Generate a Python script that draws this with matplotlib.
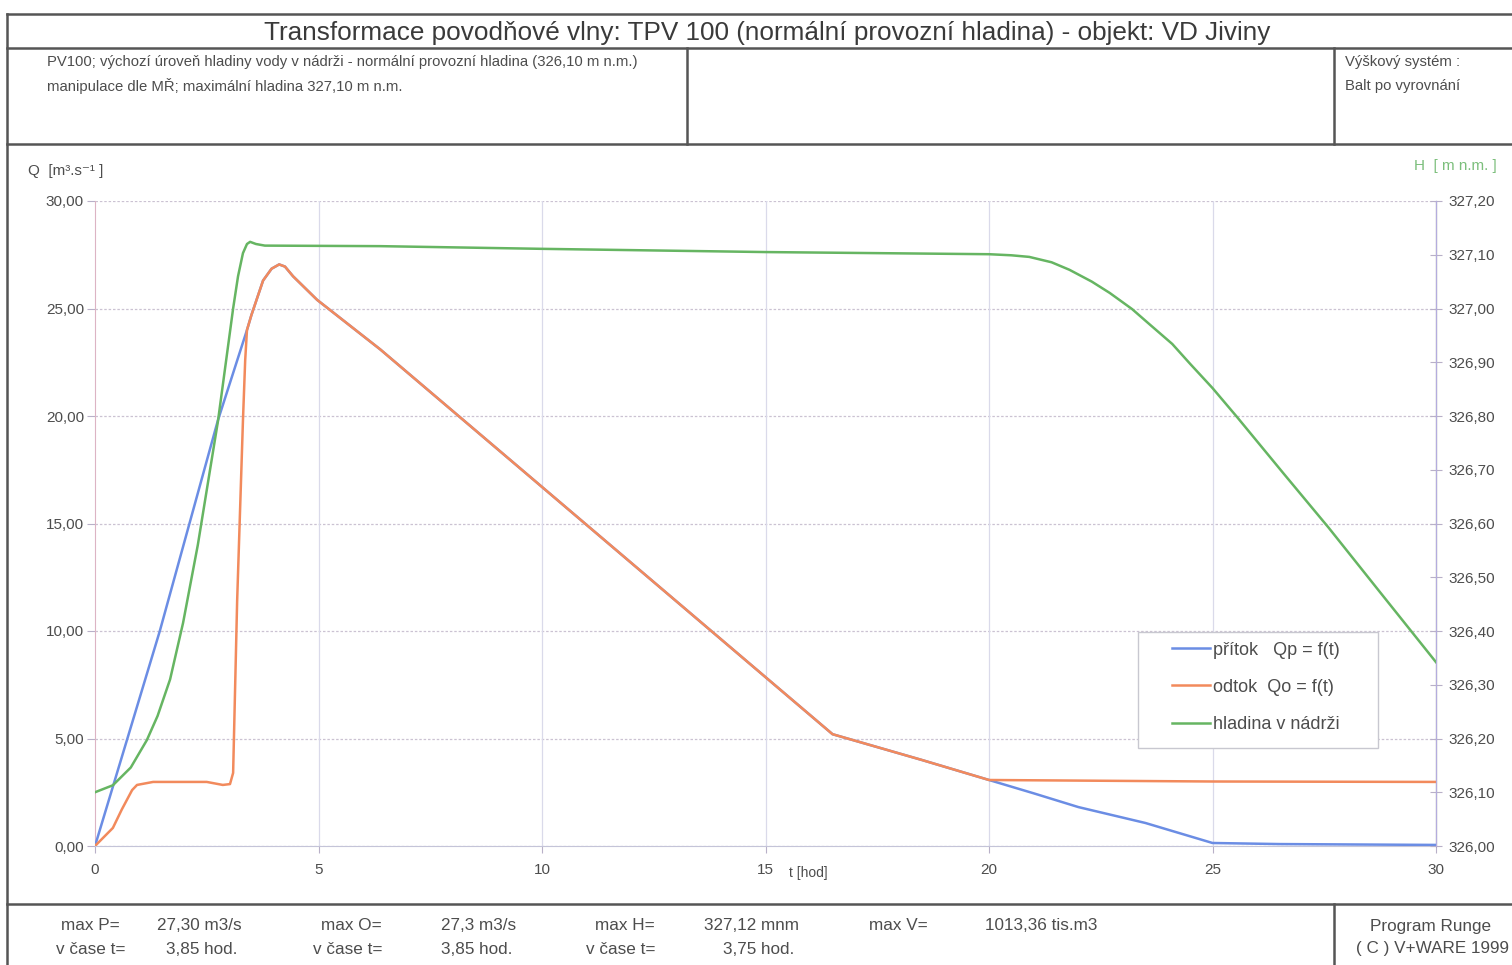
import matplotlib
matplotlib.use("Agg")
import matplotlib.pyplot as plt
from matplotlib.lines import Line2D
from matplotlib.patches import Rectangle

plt.rcParams['font.family'] = ['Liberation Sans', 'DejaVu Sans']

# --- data ---
# pritok (inflow) Qp [m3/s]
t_p = [0, 1.45, 2.75, 3.4, 3.5, 3.76, 3.95, 4.12, 4.25, 4.43, 4.97, 6.38, 10, 16.5, 18.5, 20.0, 21.0, 22.0, 23.5, 25.0, 26.5, 30]
q_p = [0, 10.0, 19.8, 24.0, 24.7, 26.3, 26.85, 27.05, 26.95, 26.5, 25.4, 23.1, 16.7, 5.2, 4.0, 3.07, 2.45, 1.81, 1.07, 0.14, 0.09, 0.05]

# odtok (outflow) Qo [m3/s]
t_o = [0, 0.4, 0.6, 0.83, 0.94, 1.3, 2.5, 2.86, 3.02, 3.09, 3.18, 3.31, 3.36, 3.4, 3.5, 3.76, 3.95, 4.12, 4.25, 4.43,
       4.97, 6.38, 10, 16.5, 18.5, 20.0, 25.0, 30]
q_o = [0, 0.84, 1.7, 2.6, 2.84, 2.98, 2.98, 2.84, 2.88, 3.4, 11.4, 19.8, 22.6, 24.0, 24.7, 26.3, 26.85, 27.05, 26.95, 26.5,
       25.4, 23.1, 16.7, 5.2, 4.0, 3.07, 3.0, 2.98]

# hladina v nadrzi H [m n.m.]
t_h = [0, 0.4, 0.8, 1.16, 1.4, 1.68, 1.97, 2.3, 2.75, 3.09, 3.2, 3.31, 3.4, 3.47, 3.6, 3.8, 6.38, 10, 15, 20,
       20.5, 20.9, 21.4, 21.8, 22.3, 22.7, 23.2, 23.6, 24.1, 24.5, 25.0, 25.55, 26.6, 27.6, 28.75, 30]
h = [326.100, 326.113, 326.146, 326.197, 326.242, 326.31, 326.415, 326.56, 326.79, 327.0, 327.06, 327.103, 327.12,
     327.124, 327.12, 327.117, 327.116, 327.111, 327.105, 327.101,
     327.099, 327.096, 327.086, 327.072, 327.05, 327.029, 326.999, 326.97, 326.934, 326.897, 326.852, 326.798,
     326.692, 326.592, 326.472, 326.342]

x_ticks = [0, 5, 10, 15, 20, 25, 30]
q_ticks = [0, 5, 10, 15, 20, 25, 30]
h_ticks = [326.0, 326.1, 326.2, 326.3, 326.4, 326.5, 326.6, 326.7, 326.8, 326.9, 327.0, 327.1, 327.2]

title = "Transformace povodňové vlny: TPV 100 (normální provozní hladina) - objekt: VD Jiviny"
head_left = ["PV100; výchozí úroveň hladiny vody v nádrži - normální provozní hladina (326,10 m n.m.)",
             "manipulace dle MŘ; maximální hladina 327,10 m n.m."]
head_right = ["Výškový systém :", "Balt po vyrovnání"]

stats = [("max P=", "27,30 m3/s", "v čase t=", "3,85 hod."),
         ("max O=", "27,3 m3/s", "v čase t=", "3,85 hod."),
         ("max H=", "327,12 mnm", "v čase t=", "3,75 hod."),
         ("max V=", "1013,36 tis.m3", "", "")]

BLUE = '#6b8de4'
ORANGE = '#f28a5c'
GREEN = '#66b562'
TXT = '#4d4d4d'
W, H = 1512, 965


def fx(px):
    return px / W


def fy(py):
    return 1 - py / H


fig = plt.figure(figsize=(15.12, 9.65), dpi=100)

# frame lines of the form
def frame(x0, y0, x1, y1, lw=1.8):
    fig.add_artist(Line2D([fx(x0), fx(x1)], [fy(y0), fy(y1)], transform=fig.transFigure,
                          color='#555555', lw=lw))

frame(7, 14, 1512, 14)
frame(7, 48, 1512, 48)
frame(7, 144, 1512, 144)
frame(7, 904, 1512, 904)
frame(7, 14, 7, 965)
frame(687, 48, 687, 144)
frame(1334, 48, 1334, 144)
frame(1334, 904, 1334, 965)

fig.text(fx(767), fy(33), title, ha='center', va='center', fontsize=18.8, color='#3a3a3a')
fig.text(fx(47), fy(62), head_left[0], ha='left', va='center', fontsize=10.7, color=TXT)
fig.text(fx(47), fy(86), head_left[1], ha='left', va='center', fontsize=10.7, color=TXT)
fig.text(fx(1345), fy(62), head_right[0], ha='left', va='center', fontsize=10.7, color=TXT)
fig.text(fx(1345), fy(86), head_right[1], ha='left', va='center', fontsize=10.7, color=TXT)

# bottom statistics
cols = [(120, 157, 125, 166), (382, 441, 382, 441), (655, 704, 655, 723), (928, 985, 928, 985)]
for (a, b, c, d), (xa, xb, xc, xd) in zip(stats, cols):
    fig.text(fx(xa), fy(926), a, ha='right', va='center', fontsize=12.3, color=TXT)
    fig.text(fx(xb), fy(926), b, ha='left', va='center', fontsize=12.3, color=TXT)
    if c:
        fig.text(fx(xc), fy(949), c, ha='right', va='center', fontsize=12.3, color=TXT)
        fig.text(fx(xd), fy(949), d, ha='left', va='center', fontsize=12.3, color=TXT)
fig.text(fx(1431), fy(926), "Program Runge", ha='center', va='center', fontsize=12.3, color=TXT)
fig.text(fx(1433), fy(949), "( C ) V+WARE 1999", ha='center', va='center', fontsize=12.3, color=TXT)

# chart
ax = fig.add_axes([fx(95), fy(846), fx(1436) - fx(95), fy(201) - fy(846)])
ax2 = ax.twinx()

ax.plot(t_p, q_p, color=BLUE, lw=1.8, label='přítok   Qp = f(t)', zorder=3)
ax.plot(t_o, q_o, color=ORANGE, lw=1.8, label='odtok  Qo = f(t)', zorder=4)
ax2.plot(t_h, h, color=GREEN, lw=1.8, label='hladina v nádrži')

ax.set_xlim(0, 30)
ax.set_ylim(0, 30)
ax2.set_ylim(326.0, 327.2)
ax.set_xticks(x_ticks)
ax.set_xticklabels([str(v) for v in x_ticks])
ax.set_yticks(q_ticks)
ax.set_yticklabels([f"{v:.2f}".replace('.', ',') for v in q_ticks])
ax2.set_yticks(h_ticks)
ax2.set_yticklabels([f"{v:.2f}".replace('.', ',') for v in h_ticks])

for v in q_ticks:
    ax.axhline(v, color='#cbc2d2', lw=0.9, ls=(0, (2, 1.5)), zorder=1)
for v in x_ticks[1:-1]:
    ax.axvline(v, color='#dadaea', lw=0.9, zorder=1)

ax.tick_params(axis='both', colors='#b8b0c8', labelcolor=TXT, labelsize=11)
ax.tick_params(axis='y', direction='out', length=6, pad=2)
ax.tick_params(axis='x', direction='out', length=5, pad=7)
ax2.tick_params(axis='y', direction='inout', length=8, pad=5, colors='#b8b0c8', labelcolor=TXT, labelsize=11)

for a in (ax, ax2):
    a.spines['top'].set_visible(False)
ax.spines['left'].set_color('#dcb4c4')
ax.spines['bottom'].set_color('#c4c4d8')
ax2.spines['right'].set_color('#b4acde')
ax2.spines['left'].set_visible(False)
ax2.spines['bottom'].set_visible(False)

fig.text(fx(28), fy(171), "Q  [m³.s⁻¹ ]", ha='left', va='center', fontsize=11, color=TXT)
fig.text(fx(1497), fy(166), "H  [ m n.m. ]", ha='right', va='center', fontsize=11, color='#7cbf7c')
fig.text(fx(789), fy(873), "t [hod]", ha='left', va='center', fontsize=10, color=TXT)

# legend: frameless content plus a separate frame box
handles = ax.get_lines()[:2] + ax2.get_lines()[:1]
leg = ax2.legend(handles=handles, loc='upper left', bbox_to_anchor=(0.803, 0.317), fontsize=13,
                 frameon=False, handlelength=2.1, handletextpad=0.17, labelspacing=1.12, borderpad=0,
                 borderaxespad=0)
for txt in leg.get_texts():
    txt.set_color(TXT)
ax2.add_patch(Rectangle((0.7778, 0.152), 0.179, 0.180, transform=ax2.transAxes, fill=True,
                        facecolor='white', edgecolor='#c8c8d0', lw=1.0, zorder=5))
leg.set_zorder(6)

fig.savefig("out.png", dpi=100)
